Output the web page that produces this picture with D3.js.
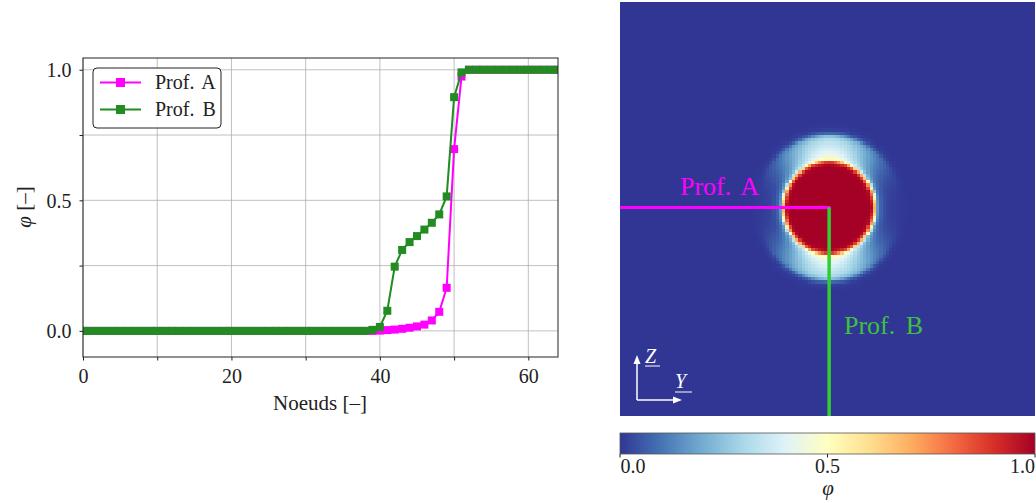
<!DOCTYPE html>
<html><head><meta charset="utf-8">
<script src="https://cdn.jsdelivr.net/npm/d3@7"></script>
<style>body{margin:0;background:#fff}</style>
</head><body><svg id="c" width="1036" height="503"></svg>
<script>
// ---- data ----
const nodes = d3.range(0, 65);
const profA = [0,0,0,0,0,0,0,0,0,0, 0,0,0,0,0,0,0,0,0,0, 0,0,0,0,0,0,0,0,0,0,
  0,0,0,0,0,0,0,0,0,0,
  0.001,0.003,0.005,0.008,0.012,0.017,0.024,0.040,0.073,0.165,
  0.696,0.974,1,1,1,1,1,1,1,1, 1,1,1,1,1];
const profB = [0,0,0,0,0,0,0,0,0,0, 0,0,0,0,0,0,0,0,0,0, 0,0,0,0,0,0,0,0,0,0,
  0,0,0,0,0,0,0,0,0,0.004,
  0.015,0.077,0.246,0.310,0.340,0.363,0.388,0.414,0.446,0.515,
  0.895,0.990,1,1,1,1,1,1,1,1, 1,1,1,1,1];
const seriesNames = ["Prof. A", "Prof. B"];
const xTicks = [0,10,20,30,40,50,60];
const xTickLabels = ["0","","20","","40","","60"];
const yTicks = [0,0.25,0.5,0.75,1];
const yTickLabels = ["0.0","","0.5","","1.0"];
const cbTicks = [0,0.5,1];
const cbTickLabels = ["0.0","0.5","1.0"];
const gridN = 128;

// ---- setup ----
const FONT = "'Liberation Serif', 'DejaVu Serif', serif";
const svg = d3.select("#c");
const colA = "#ff00ff", colB = "#228b22", colBmap = "#32cd32";

// ===== Left line chart =====
const xS = d3.scaleLinear().domain([0,64]).range([83,558]);
const yS = d3.scaleLinear().domain([-0.1,1.045]).range([357,58]);
const gL = svg.append("g");
gL.append("clipPath").attr("id","clipL").append("rect")
  .attr("x",83).attr("y",58).attr("width",475).attr("height",299);

// grid
gL.append("g").selectAll("line").data(xTicks).join("line")
  .attr("x1",d=>xS(d)).attr("x2",d=>xS(d)).attr("y1",58).attr("y2",357)
  .attr("stroke","#b0b0b0").attr("stroke-width",0.8);
gL.append("g").selectAll("line").data(yTicks).join("line")
  .attr("y1",d=>yS(d)).attr("y2",d=>yS(d)).attr("x1",83).attr("x2",558)
  .attr("stroke","#b0b0b0").attr("stroke-width",0.8);

// axes
const xAx = gL.append("g").attr("transform","translate(0,357)")
  .call(d3.axisBottom(xS).tickValues(xTicks).tickSize(3.5).tickPadding(8)
    .tickFormat((d,i)=>xTickLabels[i]));
const yAx = gL.append("g").attr("transform","translate(83,0)")
  .call(d3.axisLeft(yS).tickValues(yTicks).tickSize(3.5).tickPadding(8)
    .tickFormat((d,i)=>yTickLabels[i]));
[xAx,yAx].forEach(a=>{
  a.select(".domain").remove();
  a.selectAll("text").attr("font-family",FONT).attr("font-size",20).attr("fill","#222");
  a.selectAll("line").attr("stroke","#222");
});
yAx.selectAll("text").attr("dy","0.34em");

// lines + markers
const lineGen = d3.line().x((d,i)=>xS(nodes[i])).y(d=>yS(d));
const plotG = gL.append("g").attr("clip-path","url(#clipL)");
[[profA,colA],[profB,colB]].forEach(([arr,col])=>{
  plotG.append("path").attr("d",lineGen(arr)).attr("fill","none")
    .attr("stroke",col).attr("stroke-width",2);
  plotG.append("g").selectAll("rect").data(arr).join("rect")
    .attr("x",(d,i)=>xS(nodes[i])-4).attr("y",d=>yS(d)-4)
    .attr("width",8).attr("height",8).attr("fill",col);
});

// frame
gL.append("rect").attr("x",83).attr("y",58).attr("width",475).attr("height",299)
  .attr("fill","none").attr("stroke","#222").attr("stroke-width",1);

// legend
const lg = gL.append("g");
lg.append("rect").attr("x",93).attr("y",68).attr("width",128).attr("height",60)
  .attr("rx",4).attr("fill","#fff").attr("fill-opacity",0.9)
  .attr("stroke","#222").attr("stroke-width",1);
[[colA,82.5],[colB,109.5]].forEach(([col,yy],i)=>{
  lg.append("line").attr("x1",100).attr("x2",141).attr("y1",yy).attr("y2",yy)
    .attr("stroke",col).attr("stroke-width",2);
  lg.append("rect").attr("x",116).attr("y",yy-4.5).attr("width",9).attr("height",9).attr("fill",col);
  lg.append("text").attr("x",155).attr("y",yy+6.5).text(seriesNames[i])
    .attr("font-family",FONT).attr("font-size",20).attr("fill","#222")
    .attr("word-spacing",3);
});

// axis labels
gL.append("text").attr("x",320).attr("y",410).attr("text-anchor","middle")
  .attr("font-family",FONT).attr("font-size",21).attr("fill","#222").text("Noeuds [–]");
const yl = gL.append("text").attr("transform","translate(31,207) rotate(-90)")
  .attr("text-anchor","middle").attr("font-family",FONT).attr("font-size",21).attr("fill","#222");
yl.append("tspan").attr("font-style","italic").text("φ");
yl.append("tspan").text(" [–]");

// ===== Right heatmap (field built from the two profiles) =====
const cmap = d3.scaleLinear().domain(d3.range(11).map(i=>i/10))
  .range(d3.schemeRdYlBu[11].slice().reverse()).clamp(true);
const xH = d3.scaleBand().domain(d3.range(gridN)).range([620,1035]);
const yH = d3.scaleBand().domain(d3.range(gridN)).range([416,2]);
function prof(arr, s){
  if (s <= 0) return arr[0];
  if (s >= 64) return arr[64];
  const i = Math.floor(s), f = s - i;
  return arr[i]*(1-f) + arr[i+1]*f;
}
const cells = [];
for (let c=0;c<gridN;c++) for (let k=0;k<gridN;k++){
  const dx=c-64, dz=k-64, r=Math.hypot(dx,dz);
  const w = r===0 ? 0 : Math.pow(Math.abs(dz)/r, 3);
  const s = 64 - r;
  cells.push({c,k,v:(1-w)*prof(profA,s)+w*prof(profB,s)});
}
const gR = svg.append("g");
gR.append("g").attr("shape-rendering","crispEdges").selectAll("rect").data(cells).join("rect")
  .attr("x",d=>xH(d.c)).attr("y",d=>yH(d.k))
  .attr("width",xH.bandwidth()+0.3).attr("height",yH.bandwidth()+0.3)
  .attr("fill",d=>cmap(d.v));

// profile lines on map
const cx = xH(64)+xH.bandwidth()/2, cy = yH(64)+yH.bandwidth()/2;
gR.append("line").attr("x1",620).attr("x2",cx+1.5).attr("y1",cy).attr("y2",cy)
  .attr("stroke",colA).attr("stroke-width",3);
gR.append("line").attr("x1",cx).attr("x2",cx).attr("y1",cy).attr("y2",416)
  .attr("stroke",colBmap).attr("stroke-width",3.5);
gR.append("text").attr("x",680).attr("y",195).text(seriesNames[0])
  .attr("font-family",FONT).attr("font-size",26).attr("fill",colA).attr("word-spacing",4);
gR.append("text").attr("x",844).attr("y",334).text(seriesNames[1])
  .attr("font-family",FONT).attr("font-size",26).attr("fill","#3cc23c").attr("word-spacing",4);

// axis indicator
const ind = gR.append("g").attr("stroke","#fff").attr("fill","#fff");
ind.append("line").attr("x1",637).attr("y1",400).attr("x2",637).attr("y2",362).attr("stroke-width",1.5);
ind.append("line").attr("x1",637).attr("y1",400).attr("x2",675).attr("y2",400).attr("stroke-width",1.5);
ind.append("path").attr("d","M637,355 L633.5,364 L640.5,364 Z").attr("stroke","none");
ind.append("path").attr("d","M682,400 L673,396.5 L673,403.5 Z").attr("stroke","none");
gR.append("text").attr("x",645).attr("y",363).text("Z").attr("font-family",FONT)
  .attr("font-style","italic").attr("font-size",20).attr("fill","#fff");
gR.append("line").attr("x1",645).attr("x2",660).attr("y1",366).attr("y2",366).attr("stroke","#fff").attr("stroke-width",1);
gR.append("text").attr("x",675).attr("y",388).text("Y").attr("font-family",FONT)
  .attr("font-style","italic").attr("font-size",20).attr("fill","#fff");
gR.append("line").attr("x1",675).attr("x2",692).attr("y1",392).attr("y2",392).attr("stroke","#fff").attr("stroke-width",1);

// ===== Colorbar =====
const cbS = d3.scaleLinear().domain([0,1]).range([620,1035]);
const grad = svg.append("defs").append("linearGradient").attr("id","cbg")
  .attr("x1","0%").attr("x2","100%").attr("y1","0%").attr("y2","0%");
grad.selectAll("stop").data(d3.range(0,1.0001,0.05)).join("stop")
  .attr("offset",d=>(d*100)+"%").attr("stop-color",d=>cmap(d));
svg.append("rect").attr("x",620).attr("y",433).attr("width",415).attr("height",21)
  .attr("fill","url(#cbg)").attr("stroke","#555").attr("stroke-width",0.8);
const cbG = svg.append("g");
cbG.selectAll("line").data(cbTicks).join("line")
  .attr("x1",d=>cbS(d)).attr("x2",d=>cbS(d)).attr("y1",454).attr("y2",457.5)
  .attr("stroke","#222");
cbG.selectAll("text").data(cbTicks).join("text")
  .attr("x",d=>cbS(d)+(d===0?0.5:0)).attr("y",473)
  .attr("text-anchor",d=>d===0?"start":(d===1?"end":"middle"))
  .attr("font-family",FONT).attr("font-size",20).attr("fill","#222")
  .text((d,i)=>cbTickLabels[i]);
svg.append("text").attr("x",828).attr("y",495).attr("text-anchor","middle")
  .attr("font-family",FONT).attr("font-style","italic").attr("font-size",21).attr("fill","#222").text("φ");
</script></body></html>
